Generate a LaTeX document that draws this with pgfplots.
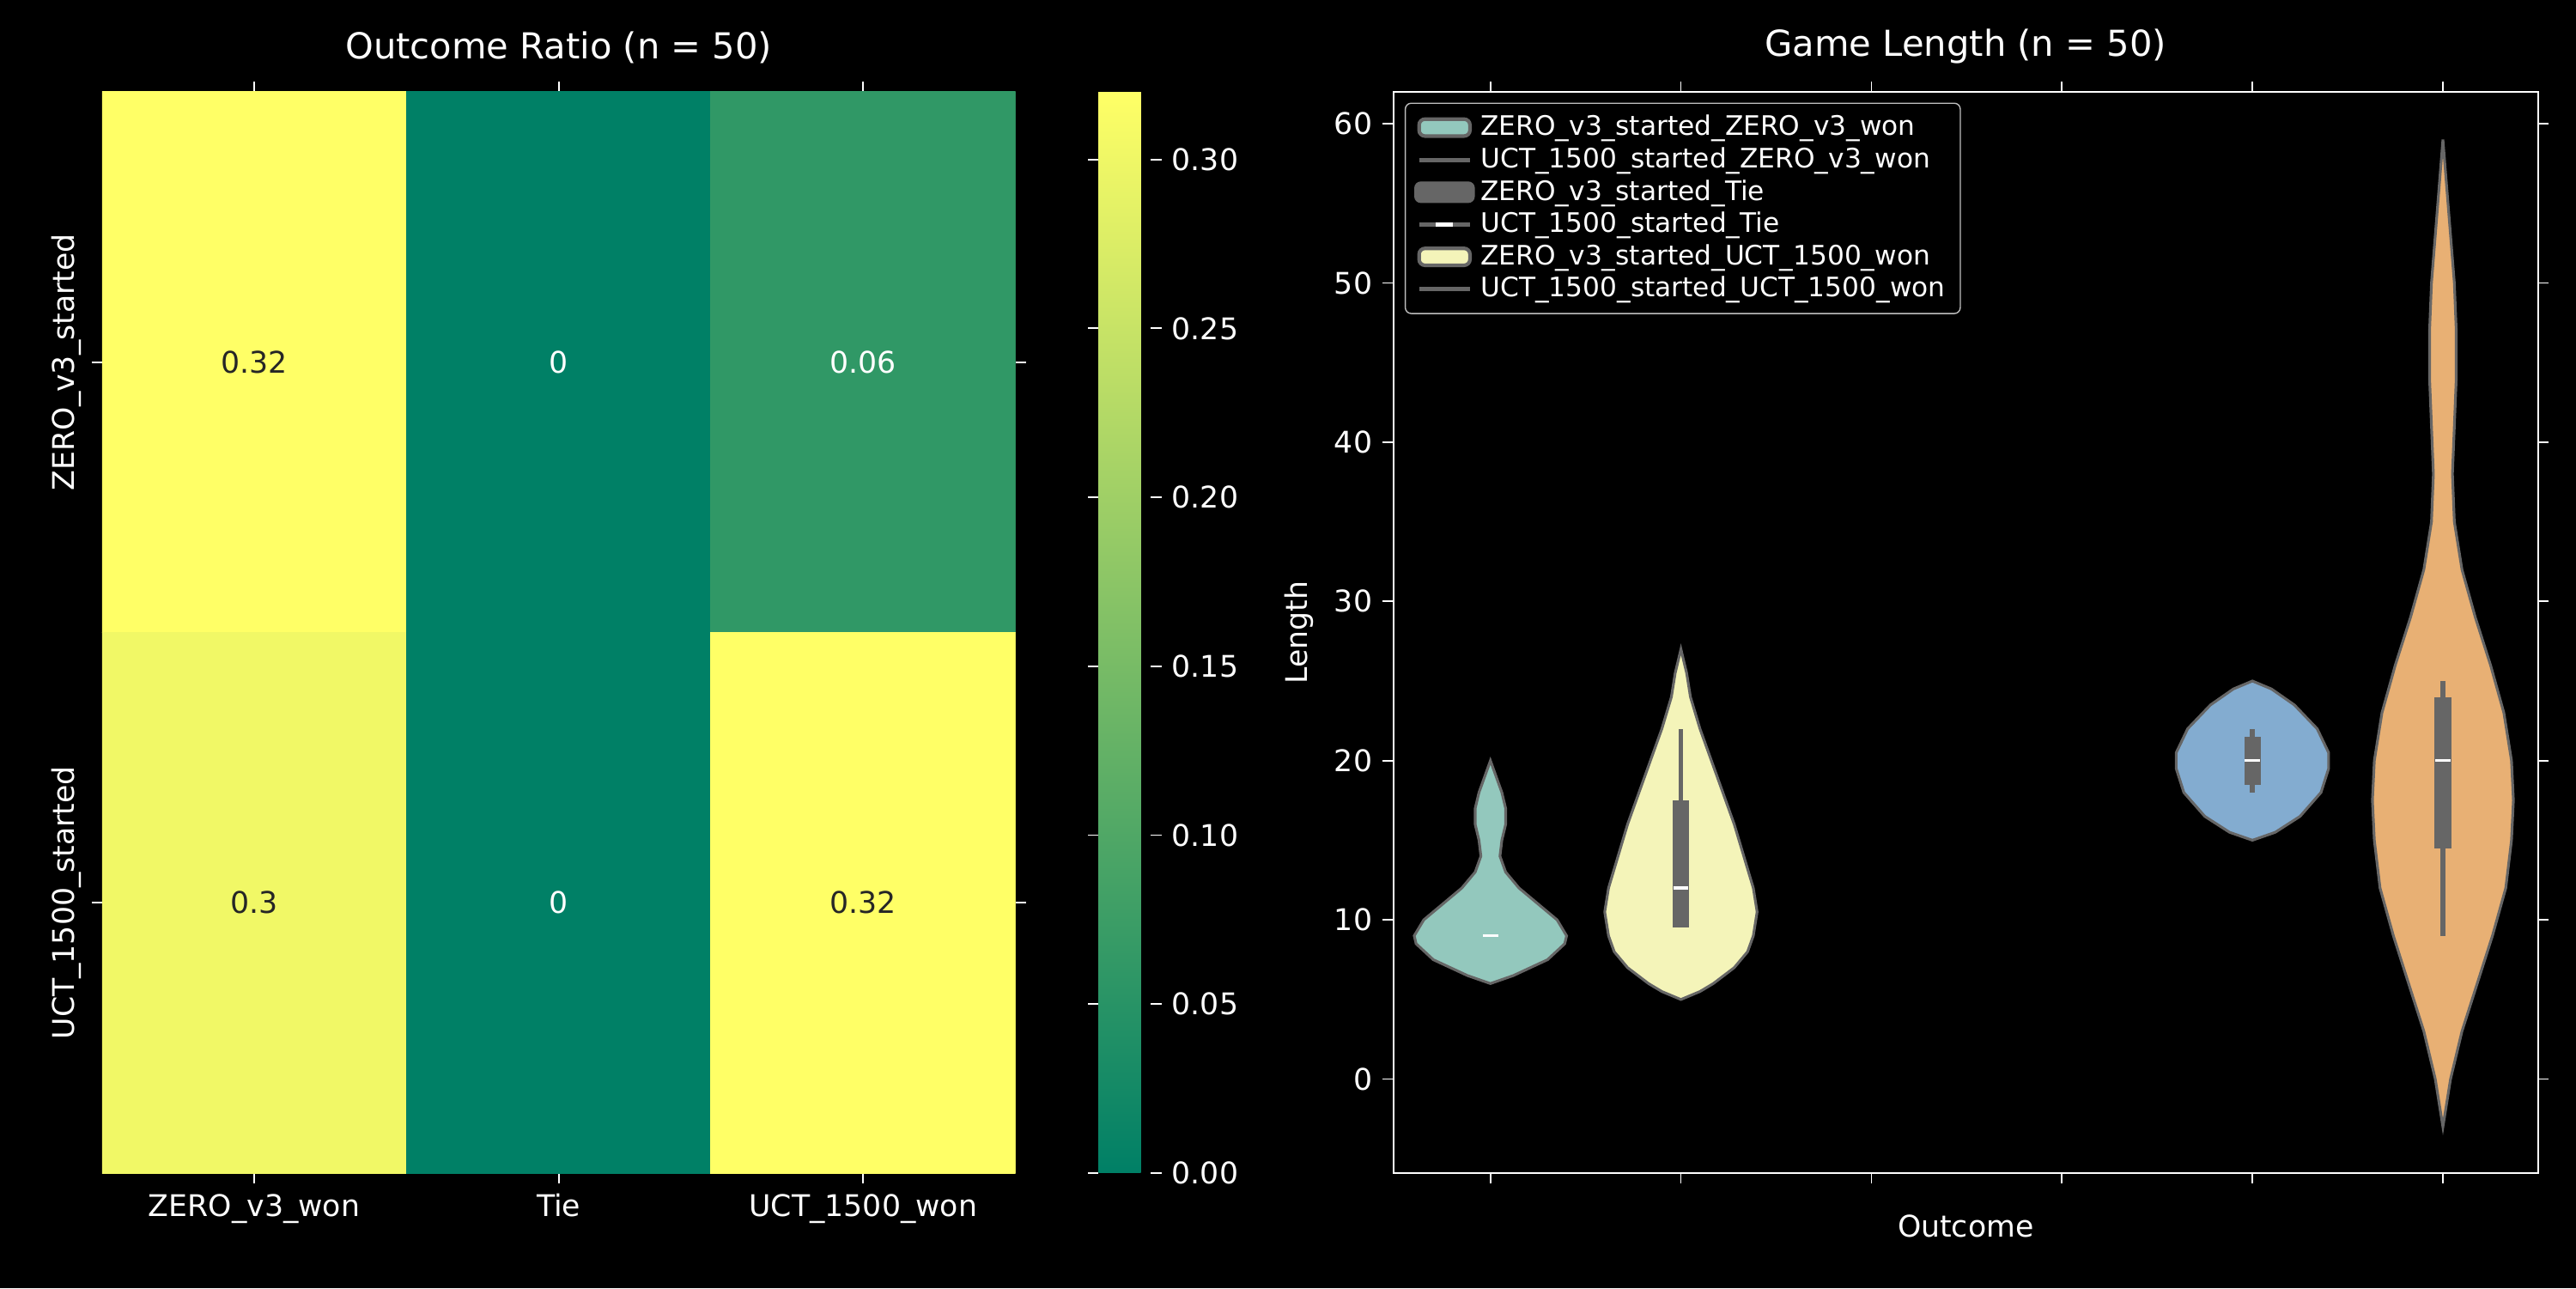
\documentclass[border=0pt]{standalone}
\usepackage{pgfplots}
\pgfplotsset{compat=1.18}
\usepackage{fontspec}
\setmainfont{DejaVu Sans}
\definecolor{vteal}{HTML}{93C8BD}
\definecolor{vyel}{HTML}{F4F4B9}
\definecolor{vblue}{HTML}{83ACD0}
\definecolor{vorange}{HTML}{E8B074}
\definecolor{vgray}{HTML}{666666}
\definecolor{dtext}{HTML}{262626}
\begin{document}
\begin{tikzpicture}
\fill[black] (0,0) rectangle (864pt,432pt);
\pgfplotsset{every axis/.append style={
  scale only axis, font=\fontsize{10}{12}\selectfont,
  /pgf/number format/assume math mode=true,
  tick label style={white}, label style={white}, title style={white,font=\fontsize{12}{14}\selectfont},
  tick align=outside, major tick length=3.5pt, tick style={white,line width=0.5pt},
}}
% heatmap
\begin{axis}[at={(34.2pt,38.6pt)}, anchor=south west, width=306.4pt, height=362.6pt,
  xmin=-0.5, xmax=2.5, ymin=-0.5, ymax=1.5, y dir=reverse,
  axis line style={draw=none},
  xtick={0,1,2}, xticklabels={ZERO\_v3\_won,Tie,UCT\_1500\_won},
  ytick={0,1}, yticklabels={ZERO\_v3\_started,UCT\_1500\_started},
  yticklabel style={rotate=90, anchor=south},
  title={Outcome Ratio (n = 50)},
  colormap={summ}{rgb=(0,0.5,0.4) rgb=(1,1,0.4)},
  point meta min=0, point meta max=0.32,
  colorbar,
  colorbar style={at={(parent axis.south east)}, anchor=south west, xshift=19.3pt,
    width=17.6pt, axis line style={draw=none},
    ytick={0,0.05,0.1,0.15,0.2,0.25,0.3},
    yticklabel style={white,/pgf/number format/fixed,/pgf/number format/fixed zerofill,/pgf/number format/precision=2},
    tick style={white}},
  ]
\addplot[matrix plot*, mesh/cols=3, point meta=explicit] table[meta=c] {
x y c
0 0 0.32
1 0 0
2 0 0.06
0 1 0.30
1 1 0
2 1 0.32
};
\node[dtext] at (axis cs:0,0) {0.32};
\node[white] at (axis cs:1,0) {0};
\node[white] at (axis cs:2,0) {0.06};
\node[dtext] at (axis cs:0,1) {0.3};
\node[white] at (axis cs:1,1) {0};
\node[dtext] at (axis cs:2,1) {0.32};
\end{axis}
% violins
\begin{axis}[at={(467.3pt,38.6pt)}, anchor=south west, width=384pt, height=362.6pt,
  xmin=-0.51, xmax=5.5, ymin=-5.9, ymax=62,
  axis line style={white, line width=0.6pt},
  xtick={0,1,2,3,4,5}, xticklabels={},
  ytick={0,10,...,60},
  xlabel={Outcome}, ylabel={Length},
  title={Game Length (n = 50)},
  legend style={at={(0.01,0.99)}, anchor=north west, fill=black, draw=lightgray, rounded corners=2pt,
    text=white, font=\fontsize{9}{11}\selectfont, row sep=-1.5pt, legend cell align=left},
  ]
\addlegendimage{area legend, fill=vteal, draw=vgray, line width=1.2pt}
\addlegendentry{ZERO\_v3\_started\_ZERO\_v3\_won}
\addlegendimage{vgray, line width=1.5pt}
\addlegendentry{UCT\_1500\_started\_ZERO\_v3\_won}
\addlegendimage{legend image code/.code={\fill[vgray] (-0.05cm,-0.12cm) rectangle (0.65cm,0.12cm);}}
\addlegendentry{ZERO\_v3\_started\_Tie}
\addlegendimage{legend image code/.code={\draw[vgray,line width=1.5pt] (0cm,0cm) -- (0.6cm,0cm); \draw[white,line width=1.5pt] (0.2cm,0cm) -- (0.4cm,0cm);}}
\addlegendentry{UCT\_1500\_started\_Tie}
\addlegendimage{area legend, fill=vyel, draw=vgray, line width=1.2pt}
\addlegendentry{ZERO\_v3\_started\_UCT\_1500\_won}
\addlegendimage{vgray, line width=1.5pt}
\addlegendentry{UCT\_1500\_started\_UCT\_1500\_won}
% violin 0
\addplot[fill=vteal, draw=vgray, line width=0.9pt, forget plot] coordinates {
(0,6)(0.12,6.5)(0.3,7.5)(0.39,8.5)(0.40,9)(0.35,10)(0.25,11)(0.15,12)(0.08,13)(0.05,14)(0.06,15)(0.08,16)(0.08,17)(0.06,18)(0.03,19)(0,20)
(-0.03,19)(-0.06,18)(-0.08,17)(-0.08,16)(-0.06,15)(-0.05,14)(-0.08,13)(-0.15,12)(-0.25,11)(-0.35,10)(-0.40,9)(-0.39,8.5)(-0.3,7.5)(-0.12,6.5)} -- cycle;
\addplot[white, line width=1pt, forget plot] coordinates {(-0.04,9)(0.04,9)};
% violin 1
\addplot[fill=vyel, draw=vgray, line width=0.9pt, forget plot] coordinates {
(1,5)(1.1,5.5)(1.17,6)(1.28,7)(1.35,8)(1.38,9)(1.40,10.5)(1.38,12)(1.33,14)(1.28,16)(1.22,18)(1.16,20)(1.1,22)(1.05,24)(1.03,25.5)(1,27)
(0.97,25.5)(0.95,24)(0.9,22)(0.84,20)(0.78,18)(0.72,16)(0.67,14)(0.62,12)(0.60,10.5)(0.62,9)(0.65,8)(0.72,7)(0.83,6)(0.9,5.5)} -- cycle;
\addplot[vgray, line width=1.6pt, forget plot] coordinates {(1,9.5)(1,22)};
\addplot[fill=vgray, draw=none, forget plot] coordinates {(0.957,9.5)(1.043,9.5)(1.043,17.5)(0.957,17.5)} -- cycle;
\addplot[white, line width=1pt, forget plot] coordinates {(0.96,12)(1.04,12)};
% violin 4
\addplot[fill=vblue, draw=vgray, line width=0.9pt, forget plot] coordinates {
(4,15)(4.12,15.5)(4.25,16.5)(4.36,18)(4.40,19.5)(4.40,20.5)(4.34,22)(4.22,23.5)(4.1,24.5)(4,25)
(3.9,24.5)(3.78,23.5)(3.66,22)(3.60,20.5)(3.60,19.5)(3.64,18)(3.75,16.5)(3.88,15.5)} -- cycle;
\addplot[vgray, line width=1.6pt, forget plot] coordinates {(4,18)(4,22)};
\addplot[fill=vgray, draw=none, forget plot] coordinates {(3.957,18.5)(4.043,18.5)(4.043,21.5)(3.957,21.5)} -- cycle;
\addplot[white, line width=1pt, forget plot] coordinates {(3.96,20)(4.04,20)};
% violin 5
\addplot[fill=vorange, draw=vgray, line width=0.9pt, forget plot] coordinates {
(5,-3)(5.04,0)(5.1,3)(5.18,6)(5.26,9)(5.33,12)(5.36,15)(5.37,17.5)(5.36,20)(5.32,23)(5.25,26)(5.17,29)(5.1,32)(5.06,35)(5.05,38)(5.06,41)(5.07,44)(5.07,47)(5.06,50)(5.04,53)(5.02,56)(5,59)
(4.98,56)(4.96,53)(4.94,50)(4.93,47)(4.93,44)(4.94,41)(4.95,38)(4.94,35)(4.9,32)(4.83,29)(4.75,26)(4.68,23)(4.64,20)(4.63,17.5)(4.64,15)(4.67,12)(4.74,9)(4.82,6)(4.9,3)(4.96,0)} -- cycle;
\addplot[vgray, line width=1.6pt, forget plot] coordinates {(5,9)(5,25)};
\addplot[fill=vgray, draw=none, forget plot] coordinates {(4.957,14.5)(5.043,14.5)(5.043,24)(4.957,24)} -- cycle;
\addplot[white, line width=1pt, forget plot] coordinates {(4.96,20)(5.04,20)};
\end{axis}
\end{tikzpicture}
\end{document}
